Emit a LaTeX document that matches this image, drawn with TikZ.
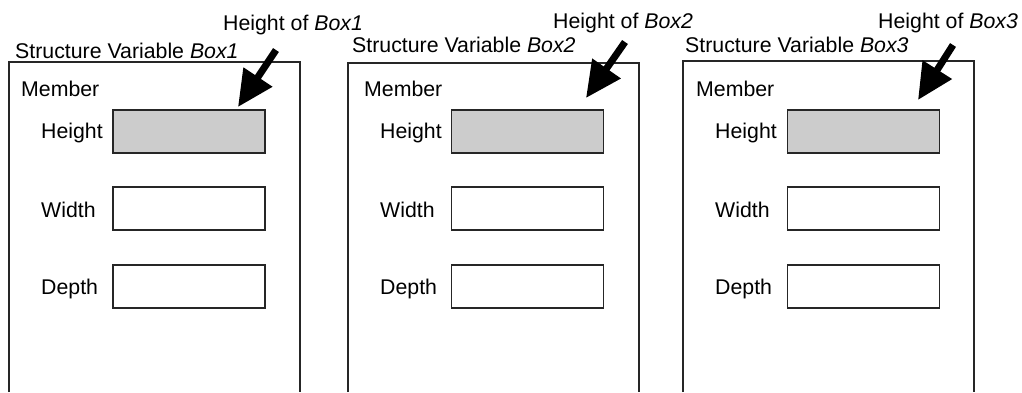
\documentclass[tikz,border=0pt]{standalone}
\usepackage{fontspec}
\setmainfont{Liberation Sans}
\usetikzlibrary{arrows.meta}
\begin{document}
\begin{tikzpicture}[x=1pt,y=-1pt,
  lbl/.style={anchor=base west, inner sep=0pt, font=\fontsize{21.3}{25}\selectfont},
  valbox/.style={draw=black!85, line width=1.3pt, minimum width=152pt, minimum height=43pt, inner sep=0pt},
  hbox/.style={valbox, fill=black!20},
  panel/.style={draw=black!85, line width=1.3pt},
  bigarrow/.style={line width=7pt, -{Triangle[length=36pt,width=33pt]}}]
\useasboundingbox (0,0) rectangle (1022,392);

% ---------- Panel 1 ----------
\draw[panel] (9,392) -- (9,62) -- (300,62) -- (300,392);
\node[lbl] (t1) at (15,58) {Structure Variable {\itshape Box1}};
\node[lbl] (o1) at (223,30.5) {Height of {\itshape Box1}};
\node[lbl] (m1) at (21,96.7) {Member};
\node[lbl] (lh1) at (41,138) {Height};
\node[lbl] (lw1) at (41,217) {Width};
\node[lbl] (ld1) at (41,294) {Depth};
\node[hbox] (h1) at (189,131.5) {};
\node[valbox] (w1) at (189,208.5) {};
\node[valbox] (d1) at (189,286.5) {};
\coordinate (a1s) at (276,50);
\coordinate (a1e) at (238,107);
\draw[bigarrow] (a1s) -- (a1e);

% ---------- Panel 2 ----------
\draw[panel] (348,392) -- (348,63) -- (639,63) -- (639,392);
\node[lbl] (t2) at (352,52.5) {Structure Variable {\itshape Box2}};
\node[lbl] (o2) at (553,28) {Height of {\itshape Box2}};
\node[lbl] (m2) at (364,96.7) {Member};
\node[lbl] (lh2) at (380,138) {Height};
\node[lbl] (lw2) at (380,217) {Width};
\node[lbl] (ld2) at (380,294) {Depth};
\node[hbox] (h2) at (527.5,131.5) {};
\node[valbox] (w2) at (527.5,208.5) {};
\node[valbox] (d2) at (527.5,286.5) {};
\coordinate (a2s) at (625,42);
\coordinate (a2e) at (586,98);
\draw[bigarrow] (a2s) -- (a2e);

% ---------- Panel 3 ----------
\draw[panel] (683,392) -- (683,61) -- (974,61) -- (974,392);
\node[lbl] (t3) at (685,52) {Structure Variable {\itshape Box3}};
\node[lbl] (o3) at (878,28) {Height of {\itshape Box3}};
\node[lbl] (m3) at (696,96.7) {Member};
\node[lbl] (lh3) at (715,138) {Height};
\node[lbl] (lw3) at (715,217) {Width};
\node[lbl] (ld3) at (715,294) {Depth};
\node[hbox] (h3) at (863.5,131.5) {};
\node[valbox] (w3) at (863.5,208.5) {};
\node[valbox] (d3) at (863.5,286.5) {};
\coordinate (a3s) at (953,45);
\coordinate (a3e) at (918,100);
\draw[bigarrow] (a3s) -- (a3e);
\end{tikzpicture}
\end{document}
